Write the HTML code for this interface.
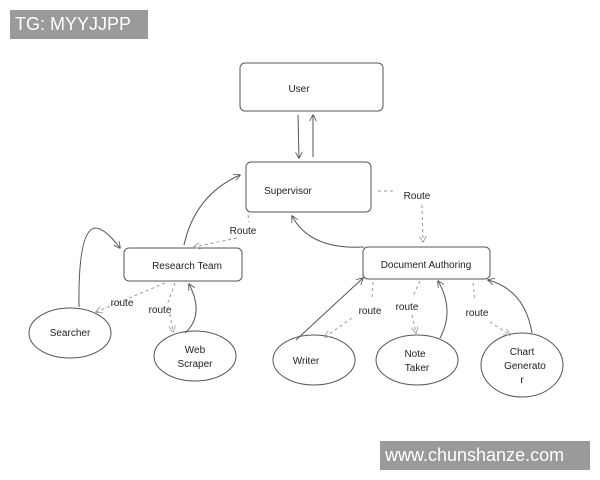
<!DOCTYPE html>
<html><head><style>
body{margin:0;width:600px;height:480px;background:#fff;overflow:hidden;position:relative;font-family:"Liberation Sans",sans-serif}
svg{position:absolute;left:0;top:0}
.wm{position:absolute;background:#9a9a9a;color:#fff;font-size:18px;line-height:29px;padding-left:5px}
</style></head><body>
<svg width="600" height="480" viewBox="0 0 600 480">
<defs><marker id="a" viewBox="0 0 10 10" refX="9" refY="5" markerWidth="7" markerHeight="7" orient="auto"><path d="M0,0 L10,5 L0,10" fill="none" stroke="#555" stroke-width="1.2"/></marker>
<marker id="d" viewBox="0 0 10 10" refX="9" refY="5" markerWidth="7" markerHeight="7" orient="auto"><path d="M0,0 L10,5 L0,10" fill="none" stroke="#999" stroke-width="1.2"/></marker></defs>
<g fill="none" stroke="#555" stroke-width="1">
<rect x="240" y="63" width="143" height="48" rx="5"/>
<rect x="246" y="162" width="125" height="50" rx="5"/>
<rect x="124" y="248" width="118" height="33" rx="5"/>
<rect x="363" y="247" width="127" height="32" rx="5"/>
<ellipse cx="70" cy="333" rx="41" ry="25"/>
<ellipse cx="195" cy="356" rx="41" ry="25"/>
<ellipse cx="314" cy="360" rx="41" ry="25"/>
<ellipse cx="417" cy="360" rx="41" ry="25"/>
<ellipse cx="522" cy="365" rx="41" ry="32"/>
<g marker-end="url(#a)">
<path d="M298 115 L299 158"/>
<path d="M313 157 L313 115"/>
<path d="M364 247 Q310 250 292 216"/>
<path d="M184 245 Q195 195 240 175"/>
<path d="M79 307 Q78 230 95 228 Q105 228 120 248"/>
<path d="M185 333 Q205 315 189 284"/>
<path d="M296 340 L363 278"/>
<path d="M440 338 Q455 310 438 281"/>
<path d="M532 333 Q525 290 488 280"/>
</g></g>
<g fill="none" stroke="#999" stroke-width="1" stroke-dasharray="3,3" marker-end="url(#d)">
<path d="M378 191 L395 191 M422 205 L423 242"/>
<path d="M248 215 L249 222 M237 238 L194 247"/>
<path d="M165 283 L96 312"/>
<path d="M175 283 L167 305 M170 314 L173 332"/>
<path d="M373 282 L372 300 M352 318 L325 337"/>
<path d="M420 281 L413 296 M412 315 L416 333"/>
<path d="M473 283 L475 300 M490 322 L510 335"/>
</g>
<g font-size="10" fill="#222" text-anchor="middle">
<text x="299" y="92">User</text>
<text x="288" y="194">Supervisor</text>
<text x="187" y="269">Research Team</text>
<text x="426" y="268">Document Authoring</text>
<text x="70" y="336">Searcher</text>
<text x="195" y="353">Web</text><text x="195" y="367">Scraper</text>
<text x="306" y="364">Writer</text>
<text x="415" y="357">Note</text><text x="417" y="371">Taker</text>
<text x="522" y="355">Chart</text><text x="525" y="369">Generato</text><text x="522" y="383">r</text>
<text x="417" y="199">Route</text>
<text x="243" y="234">Route</text>
<text x="122" y="306">route</text>
<text x="160" y="313">route</text>
<text x="370" y="314">route</text>
<text x="407" y="310">route</text>
<text x="477" y="316">route</text>
</g>
</svg>
<div class="wm" style="left:10px;top:10px;width:133px;height:29px">TG: MYYJJPP</div>
<div class="wm" style="left:380px;top:441px;width:205px;height:29px">www.chunshanze.com</div>
</body></html>
